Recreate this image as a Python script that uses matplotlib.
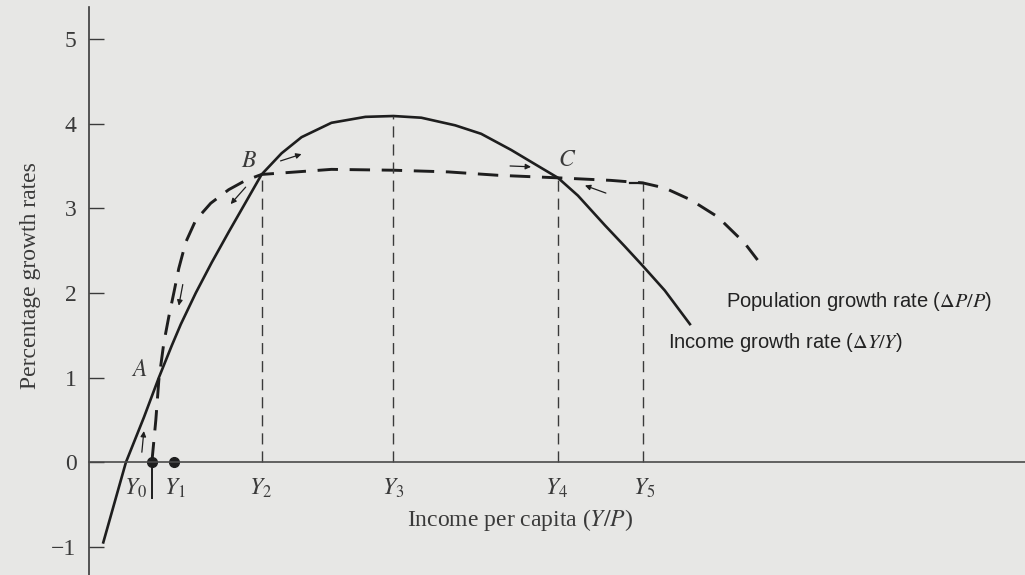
import numpy as np
import matplotlib
matplotlib.use('Agg')
import matplotlib.pyplot as plt

plt.rcParams['font.family'] = 'Liberation Serif'
plt.rcParams['mathtext.fontset'] = 'stix'

# income growth rate (solid curve)
income_x = [0.14, 0.37, 0.55, 0.70, 0.83, 0.92, 1.07, 1.23, 1.40, 1.57, 1.73, 1.93, 2.13,
            2.43, 2.77, 3.05, 3.33, 3.67, 3.93, 4.23, 4.50, 4.70, 4.90, 5.17, 5.37, 5.55,
            5.77, 6.03]
income_y = [-0.96, 0.0, 0.53, 1.00, 1.38, 1.63, 2.00, 2.36, 2.72, 3.07, 3.40, 3.65, 3.84,
            4.01, 4.08, 4.09, 4.07, 3.98, 3.88, 3.69, 3.50, 3.36, 3.15, 2.80, 2.55, 2.32,
            2.03, 1.62]

# population growth rate (dashed curve)
pop_x = [0.63, 0.67, 0.70, 0.75, 0.80, 0.85, 0.90, 0.97, 1.07, 1.22, 1.40, 1.57, 1.73,
         2.43, 3.05, 3.60, 4.10, 4.70, 5.23, 5.55, 5.77, 6.03, 6.30, 6.57, 6.70]
pop_y = [0.0, 0.50, 0.97, 1.41, 1.72, 2.00, 2.29, 2.60, 2.86, 3.06, 3.22, 3.33, 3.40,
         3.46, 3.45, 3.43, 3.39, 3.36, 3.33, 3.30, 3.24, 3.10, 2.90, 2.59, 2.39]

y_names = ['$Y_0$', '$Y_1$', '$Y_2$', '$Y_3$', '$Y_4$', '$Y_5$']
y_label_x = [0.47, 0.86, 1.72, 3.05, 4.69, 5.56]
guide_x = [1.73, 3.05, 4.70, 5.55]       # Y2..Y5 dashed guides
guide_on = ['pop', 'income', 'pop', 'pop']
dots_x = [0.63, 0.85]
yticks = [-1, 0, 1, 2, 3, 4, 5]

# small direction arrows (start -> end)
arrows = [((0.53, 0.12), (0.55, 0.37)),
          ((0.94, 2.10), (0.90, 1.85)),
          ((1.57, 3.25), (1.42, 3.05)),
          ((1.92, 3.56), (2.13, 3.64)),
          ((4.22, 3.50), (4.43, 3.49)),
          ((5.18, 3.18), (4.97, 3.27))]

bg = '#e7e7e5'
ink = '#1e1e1e'
grey = '#3a3a3a'

fig = plt.figure(figsize=(10.25, 5.75), dpi=100, facecolor=bg)
ax = fig.add_axes([0.0868, 0.0, 0.9132, 1.0], facecolor=bg)

ax.plot(income_x, income_y, color=ink, lw=1.9, solid_capstyle='butt', solid_joinstyle='round')
ax.plot(pop_x, pop_y, color=ink, lw=2.1, dashes=(7, 4), dash_joinstyle='round')

for gx, src in zip(guide_x, guide_on):
    if src == 'pop':
        top = np.interp(gx, pop_x, pop_y)
    else:
        top = max(income_y)
    ax.plot([gx, gx], [0, top], color=grey, lw=1.0, dashes=(8, 5))
# short cap where the Y5 guide meets the dashed curve
ax.plot([guide_x[3] - 0.13, guide_x[3]], [np.interp(guide_x[3], pop_x, pop_y)] * 2,
        color=ink, lw=1.6)

ax.plot(dots_x, [0, 0], 'o', color=ink, ms=7)
ax.plot([dots_x[0], dots_x[0]], [0, -0.42], color=ink, lw=1.4)

for name, xx in zip(y_names, y_label_x):
    ax.text(xx, -0.17, name, fontsize=17, ha='center', va='top', color=grey)

ax.text(0.50, 1.09, '$A$', fontsize=17, ha='center', va='center', color=grey)
ax.text(1.60, 3.55, '$B$', fontsize=17, ha='center', va='center', color=grey)
ax.text(4.79, 3.57, '$C$', fontsize=17, ha='center', va='center', color=grey)

for (x0, y0), (x1, y1) in arrows:
    ax.annotate('', xy=(x1, y1), xytext=(x0, y0),
                arrowprops=dict(arrowstyle='-|>', color=ink, lw=0.9,
                                mutation_scale=8, shrinkA=0, shrinkB=0))

ax.text(6.38, 1.90, r'Population growth rate ($\Delta P/P$)', fontsize=14.5,
        family='Liberation Sans', va='center', color='#222222')
ax.text(5.80, 1.41, r'Income growth rate ($\Delta Y/Y$)', fontsize=14.5,
        family='Liberation Sans', va='center', color='#222222')

ax.text(4.32, -0.68, 'Income per capita ($Y/P$)', fontsize=17, ha='center',
        va='center', color=grey)
fig.text(0.030, 0.52, 'Percentage growth rates', fontsize=17, rotation=90,
         ha='center', va='center', color=grey)

ax.set_xlim(0, 9.38)
ax.set_ylim(-1.33, 5.46)
ax.set_yticks(yticks)
ax.set_yticklabels([str(t) if t >= 0 else '\u22121' for t in yticks], fontsize=17)
ax.tick_params(axis='y', direction='in', length=11, width=1.0, pad=9,
               colors=grey, labelcolor=grey)
ax.set_xticks([])
ax.spines['top'].set_visible(False)
ax.spines['right'].set_visible(False)
ax.spines['left'].set_color(grey)
ax.spines['left'].set_linewidth(1.2)
ax.spines['left'].set_bounds(-1.33, 5.38)
ax.spines['bottom'].set_position(('data', 0))
ax.spines['bottom'].set_color('#4a4a4a')
ax.spines['bottom'].set_linewidth(1.2)

fig.savefig('out.png', dpi=100, facecolor=bg)
